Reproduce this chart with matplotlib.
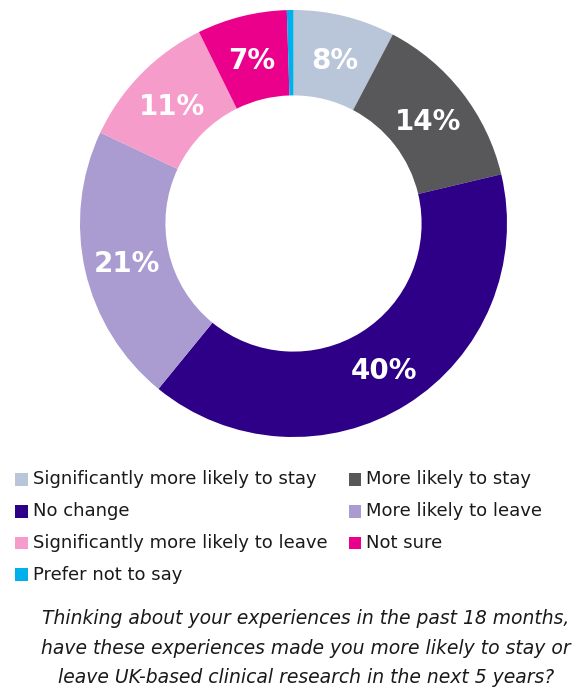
import matplotlib
matplotlib.use("Agg")
import matplotlib.pyplot as plt
from matplotlib.patches import Rectangle

# data (share of respondents, %)
categories = ["Significantly more likely to stay", "More likely to stay", "No change",
              "More likely to leave", "Significantly more likely to leave", "Not sure",
              "Prefer not to say"]
values = [7.7, 13.6, 39.6, 21.1, 10.7, 6.8, 0.5]
colors = ["#b9c5d8", "#58585a", "#2d0087", "#aa9bd1", "#f59ccb", "#eb008b", "#00b0ea"]
caption = ("Thinking about your experiences in the past 18 months,\n"
           "have these experiences made you more likely to stay or\n"
           "leave UK-based clinical research in the next 5 years?")

plt.rcParams["font.family"] = ["DejaVu Sans"]

W, H = 577, 688
fig = plt.figure(figsize=(W / 100, H / 100), dpi=100)

# donut
ax = fig.add_axes([80 / W, (H - 437) / H, 427 / W, 427 / H])
def pct(v):
    return f"{v:.0f}%" if v >= 3 else ""
wedges, texts = ax.pie(values, colors=colors, startangle=90, counterclock=False,
                       radius=1, wedgeprops=dict(width=0.4, linewidth=0),
                       labels=[pct(v) for v in values], labeldistance=0.8)
for t in texts:
    t.set_ha("center")
    t.set_va("center_baseline")
    t.set_color("white")
    t.set_fontsize(20)
    t.set_fontweight("bold")
ax.set_xlim(-1, 1)
ax.set_ylim(-1, 1)
ax.set_aspect("equal")
ax.axis("off")

# legend, two columns filled row by row
col_x = [15, 348.5]
row_y = [479.5, 511.5, 543, 574.5]
for i, (lab, c) in enumerate(zip(categories, colors)):
    x = col_x[i % 2]
    y = row_y[i // 2]
    fig.patches.append(Rectangle((x / W, (H - y - 6.3) / H), 12.5 / W, 12.5 / H,
                                 transform=fig.transFigure, color=c, linewidth=0))
    fig.text((x + 18) / W, (H - y) / H, lab, ha="left", va="center",
             fontsize=13, color="#1a1a1a")

fig.text(306 / W, (H - 648) / H, caption, ha="center", va="center",
         fontsize=13.5, style="italic", color="#1a1a1a", linespacing=1.72)

fig.savefig("out.png", dpi=100, facecolor="white")
